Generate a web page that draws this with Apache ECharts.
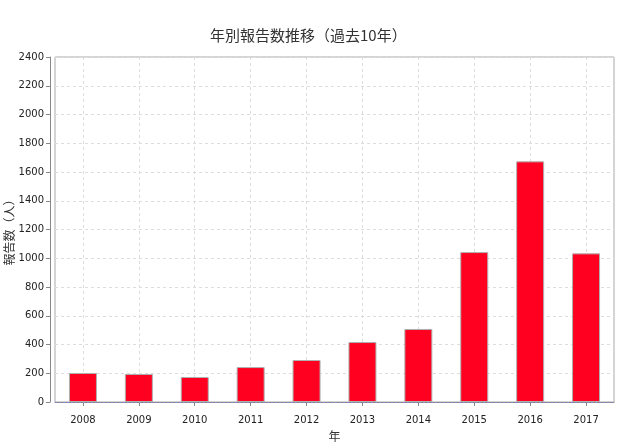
<!DOCTYPE html>
<html><head><meta charset="utf-8">
<script src="https://cdn.jsdelivr.net/npm/echarts@6/dist/echarts.min.js"></script>
<style>html,body{margin:0;padding:0;background:#fff}#c{width:629px;height:445px}</style>
</head><body><div id="c"></div>
<script>
const categories = ['2008','2009','2010','2011','2012','2013','2014','2015','2016','2017'];
const reports = [202, 195, 174, 243, 292, 417, 508, 1043, 1674, 1034];
const titleText = '年別報告数推移（過去10年）';
const yName = '報告数（人）';
const xName = '年';

const chart = echarts.init(document.getElementById('c'), null, {renderer:'canvas'});
const font = "'Noto Sans CJK JP', 'DejaVu Sans', sans-serif";
const numFont = "'DejaVu Sans', sans-serif";
chart.setOption({
  animation:false,
  backgroundColor:'#fff',
  title:{text:titleText,left:205,top:23,textStyle:{fontSize:15,fontWeight:'normal',color:'#333',fontFamily:font}},
  grid:{left:55,right:15,top:57,bottom:43,containLabel:false,outerBoundsMode:'none',show:true,borderColor:'#aaa',borderWidth:1,backgroundColor:'#fff'},
  xAxis:{type:'category',data:categories,offset:5,
    name:xName,nameLocation:'middle',nameGap:23,nameMoveOverlap:false,nameTextStyle:{fontSize:12,color:'#333',fontFamily:font},
    axisLine:{show:true,lineStyle:{color:'#888'}},
    axisTick:{show:true,alignWithLabel:true,length:4,lineStyle:{color:'#888'}},
    axisLabel:{fontSize:10,color:'#222',margin:8,fontFamily:numFont},
    splitLine:{show:false}},
  yAxis:{type:'value',min:0,max:2400,interval:200,offset:5,
    name:yName,nameLocation:'middle',nameGap:35,nameMoveOverlap:false,nameRotate:90,nameTextStyle:{fontSize:12,color:'#333',fontFamily:font},
    axisLine:{show:true,lineStyle:{color:'#888'}},
    axisTick:{show:true,length:4,lineStyle:{color:'#888'}},
    axisLabel:{fontSize:10,color:'#222',margin:6,fontFamily:numFont,formatter:function(v){return String(v);}},
    splitLine:{show:true,lineStyle:{color:'#ddd',type:[3,3]}}},
  series:[
    {type:'line',data:[],z:0,silent:true,
      markLine:{silent:true,symbol:'none',label:{show:false},z:0,animation:false,
        lineStyle:{color:'#ddd',type:[3,3],width:1},
        data:categories.map(function(c){return {xAxis:c};})}},
    {type:'bar',data:reports,barWidth:28,z:2,
    itemStyle:{color:'#ff0020',borderColor:'#b0b0b0',borderWidth:1},
    markLine:{silent:true,symbol:'none',label:{show:false},z:3,
      lineStyle:{color:'#8888cc',type:[2,2],width:1},data:[{yAxis:0}]}}]
});
</script></body></html>
